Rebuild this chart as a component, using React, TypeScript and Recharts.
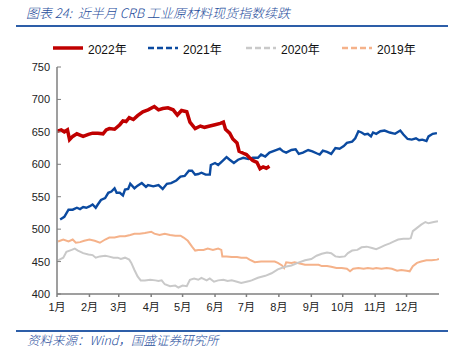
import React from 'react';
import { LineChart, Line, XAxis, YAxis } from 'recharts';

const monthTicks = [0, 31, 59, 90, 120, 151, 181, 212, 243, 273, 304, 334];
const monthLabels = ['1月', '2月', '3月', '4月', '5月', '6月', '7月', '8月', '9月', '10月', '11月', '12月'];
const yTicks = [400, 450, 500, 550, 600, 650, 700, 750];

const days2022 = [0, 4, 7, 10, 12, 15, 19, 22, 25, 30, 34, 39, 44, 47, 50, 55, 60, 63, 66, 69, 73, 77, 82, 87, 93, 97, 101, 106, 111, 115, 119, 124, 127, 132, 137, 141, 146, 151, 156, 159, 161, 165, 168, 172, 174, 178, 181, 184, 187, 191, 194, 197, 200, 203];
const values2022 = [651, 653, 650, 653, 638, 643, 647, 645, 643, 646, 648, 648, 647, 653, 655, 654, 661, 667, 666, 672, 669, 675, 681, 684, 689, 684, 686, 687, 684, 676, 683, 681, 665, 655, 659, 657, 659, 661, 663, 665, 654, 648, 639, 633, 620, 617, 615, 610, 606, 603, 593, 596, 594, 597];

const days2021 = [3, 7, 11, 15, 19, 22, 25, 28, 31, 34, 37, 39, 42, 46, 49, 52, 55, 57, 60, 63, 65, 68, 70, 74, 77, 81, 85, 87, 92, 97, 101, 105, 109, 114, 118, 122, 126, 129, 132, 135, 138, 142, 146, 147, 151, 154, 158, 162, 165, 169, 173, 178, 183, 187, 192, 195, 199, 203, 208, 213, 216, 219, 224, 228, 231, 235, 240, 244, 248, 251, 254, 258, 262, 266, 270, 274, 277, 282, 285, 288, 291, 294, 297, 300, 302, 305, 309, 313, 318, 323, 328, 331, 335, 339, 343, 346, 349, 353, 355, 359, 363];
const values2021 = [515, 519, 530, 530, 533, 531, 534, 533, 535, 538, 533, 538, 545, 548, 556, 558, 563, 556, 556, 552, 561, 562, 570, 563, 567, 571, 565, 568, 566, 568, 562, 570, 571, 575, 581, 582, 590, 590, 584, 585, 587, 584, 584, 599, 602, 599, 605, 611, 607, 602, 607, 610, 608, 610, 610, 615, 612, 618, 621, 624, 620, 618, 622, 623, 616, 618, 622, 620, 617, 615, 621, 619, 616, 625, 624, 628, 633, 635, 640, 651, 649, 646, 647, 643, 649, 647, 651, 652, 649, 647, 652, 646, 639, 638, 640, 637, 638, 636, 643, 647, 648];

const days2020 = [1, 6, 9, 14, 17, 20, 25, 30, 34, 37, 41, 46, 49, 54, 58, 61, 65, 69, 71, 74, 77, 80, 84, 89, 94, 97, 100, 103, 108, 113, 116, 120, 124, 127, 131, 135, 138, 143, 146, 150, 154, 159, 163, 167, 172, 176, 181, 184, 186, 192, 199, 205, 211, 218, 224, 230, 237, 243, 248, 253, 258, 262, 266, 270, 275, 278, 282, 287, 291, 296, 301, 305, 309, 313, 318, 322, 326, 331, 336, 338, 340, 344, 348, 352, 355, 360, 364];
const values2020 = [452, 456, 465, 468, 470, 467, 463, 461, 460, 456, 458, 459, 458, 456, 456, 454, 456, 453, 448, 437, 427, 421, 421, 422, 421, 420, 421, 415, 412, 413, 410, 413, 412, 422, 424, 422, 425, 421, 424, 419, 421, 422, 420, 421, 419, 417, 419, 420, 421, 425, 428, 432, 438, 442, 444, 448, 452, 454, 459, 462, 464, 463, 458, 457, 458, 463, 467, 468, 472, 473, 471, 469, 472, 475, 478, 481, 484, 485, 485, 486, 497, 502, 507, 511, 509, 511, 512];

const days2019 = [1, 6, 11, 15, 18, 22, 26, 31, 36, 41, 46, 50, 55, 60, 65, 70, 74, 79, 84, 90, 93, 98, 103, 108, 113, 118, 121, 125, 129, 132, 135, 140, 144, 149, 154, 157, 158, 162, 167, 172, 176, 181, 184, 189, 195, 202, 208, 211, 215, 217, 219, 224, 227, 232, 237, 243, 250, 253, 258, 262, 267, 272, 277, 280, 283, 288, 293, 297, 302, 305, 310, 315, 320, 325, 329, 334, 337, 340, 344, 348, 353, 358, 363, 365];
const values2019 = [481, 484, 481, 484, 479, 480, 482, 484, 482, 479, 484, 487, 487, 489, 489, 491, 493, 493, 494, 496, 493, 491, 493, 491, 490, 490, 487, 482, 473, 467, 468, 468, 470, 468, 470, 468, 458, 458, 457, 457, 456, 456, 453, 449, 450, 450, 450, 448, 444, 440, 449, 448, 449, 447, 445, 445, 445, 443, 443, 442, 440, 440, 439, 435, 439, 440, 439, 440, 439, 440, 439, 440, 439, 436, 437, 436, 435, 443, 448, 450, 452, 452, 453, 454];

const zip = (d: number[], v: number[]) => d.map((day, i) => ({ day, v: v[i] }));
const data2022 = zip(days2022, values2022);
const data2021 = zip(days2021, values2021);
const data2020 = zip(days2020, values2020);
const data2019 = zip(days2019, values2019);

const series = [
  { name: '2022年', data: data2022, color: '#C00000', width: 3.5, dash: false },
  { name: '2021年', data: data2021, color: '#0B4AA0', width: 2.4, dash: true },
  { name: '2020年', data: data2020, color: '#C9C9C9', width: 2, dash: true },
  { name: '2019年', data: data2019, color: '#F5B28A', width: 2, dash: true },
];

const FONT = 'Arial, "Liberation Sans", "Noto Sans CJK SC", sans-serif';
const AXIS = '#7f7f7f';

const YTick = (props: any) => {
  const { x, y, payload } = props;
  return (
    <g>
      <line x1={x + 7} x2={x + 11} y1={y} y2={y} stroke={AXIS} strokeWidth={1} />
      <text x={x} y={y} dy={4} textAnchor="end" fontSize={11} fill="#222" fontFamily={FONT}>
        {payload.value}
      </text>
    </g>
  );
};

export default function App() {
  return (
    <div style={{ position: 'absolute', left: 0, top: 0, width: 463, height: 359, background: '#fff', fontFamily: FONT }}>
      <div style={{ position: 'absolute', left: 26, top: 4, fontSize: 13, fontStyle: 'italic', color: '#1F4E9C', fontFamily: '"Noto Sans CJK SC", sans-serif', whiteSpace: 'nowrap', lineHeight: '18px', fontWeight: 300 }}>
        图表 24:&nbsp;&nbsp;近半月 CRB 工业原材料现货指数续跌
      </div>
      <div style={{ position: 'absolute', left: 16, top: 25, width: 432, height: 2, background: '#2D5EA8' }} />
      <div style={{ position: 'absolute', left: 0, top: 40, width: 463, height: 16 }}>
        {series.map((s, i) => (
          <div key={s.name} style={{ position: 'absolute', left: [53, 148, 246, 342][i], top: 0, display: 'flex', alignItems: 'center', height: 16 }}>
            <svg width={31} height={6} style={{ display: 'block' }}>
              <line x1={0} x2={30} y1={3} y2={3} stroke={s.color} strokeWidth={s.dash ? 2.5 : 3.5} strokeDasharray={s.dash ? '6 3' : undefined} />
            </svg>
            <span style={{ marginLeft: 4, fontSize: 12, color: '#111', fontFamily: FONT, whiteSpace: 'nowrap' }}>{s.name}</span>
          </div>
        ))}
      </div>
      <div style={{ position: 'absolute', left: 0, top: 0 }}>
        <LineChart width={463} height={359} margin={{ top: 67, right: 24, bottom: 35, left: 0 }}>
          <XAxis
            dataKey="day"
            type="number"
            domain={[0, 365]}
            ticks={monthTicks}
            tickFormatter={(v: number) => monthLabels[monthTicks.indexOf(v)] ?? ''}
            allowDataOverflow
            height={30}
            stroke={AXIS}
            strokeWidth={1.5}
            tickSize={3}
            tickMargin={6}
            tick={{ fontSize: 11, fill: '#222', fontFamily: FONT }}
            interval={0}
          />
          <YAxis
            type="number"
            domain={[400, 750]}
            ticks={yTicks}
            width={57}
            stroke={AXIS}
            strokeWidth={1.5}
            tickLine={false}
            tickSize={0}
            tickMargin={7}
            tick={<YTick />}
            interval={0}
          />
          {series.slice().reverse().map((s) => (
            <Line
              key={s.name}
              data={s.data}
              dataKey="v"
              name={s.name}
              type="linear"
              stroke={s.color}
              strokeWidth={s.width}
              dot={false}
              activeDot={false}
              isAnimationActive={false}
            />
          ))}
        </LineChart>
      </div>
      <div style={{ position: 'absolute', left: 16, top: 330, width: 432, height: 2, background: '#2D5EA8' }} />
      <div style={{ position: 'absolute', left: 27, top: 331, fontSize: 12.5, fontStyle: 'italic', color: '#1F4E9C', fontFamily: '"Noto Sans CJK SC", sans-serif', whiteSpace: 'nowrap', lineHeight: '18px', fontWeight: 300 }}>
        资料来源：Wind，国盛证券研究所
      </div>
    </div>
  );
}
